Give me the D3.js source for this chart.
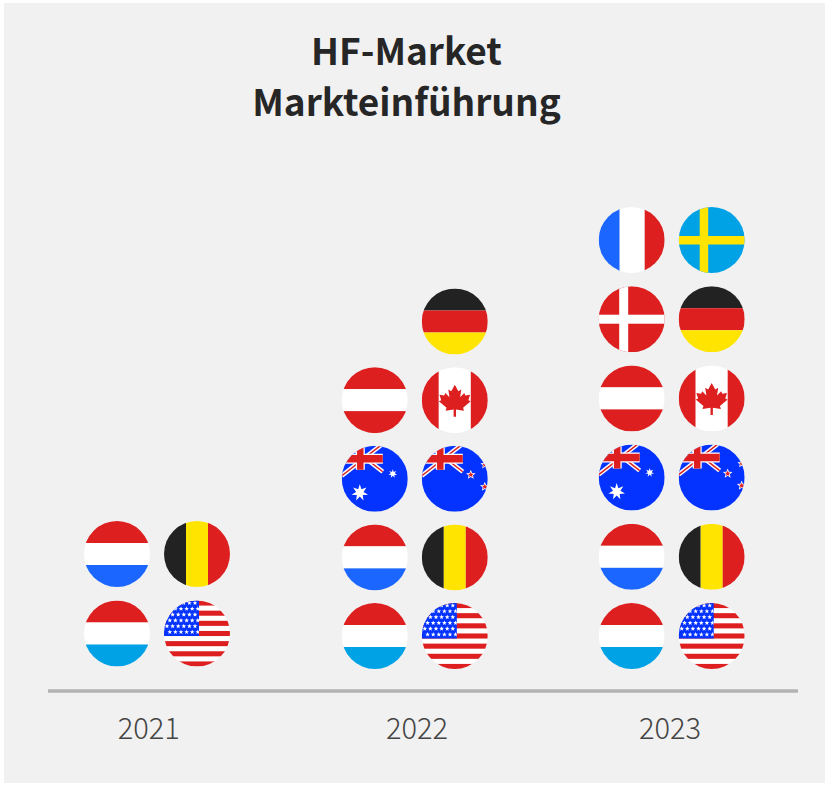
<!DOCTYPE html>
<html><head><meta charset="utf-8">
<script src="https://cdnjs.cloudflare.com/ajax/libs/d3/7.8.5/d3.min.js"></script>
<style>html,body{margin:0;padding:0;background:#fff}svg{display:block}</style>
</head><body><svg id="c" width="828" height="785"></svg>
<script>
const titleLines = ["HF-Market", "Markteinführung"];
const years = ["2021", "2022", "2023"];
// Countries per year, bottom row first, each row left then right (null = empty slot)
const countries2021 = [["LU","US"],["NL","BE"]];
const countries2022 = [["LU","US"],["NL","BE"],["AU","NZ"],["AT","CA"],[null,"DE"]];
const countries2023 = [["LU","US"],["NL","BE"],["AU","NZ"],["AT","CA"],["DK","DE"],["FR","SE"]];
const byYear = {"2021":countries2021,"2022":countries2022,"2023":countries2023};

const RED="#dd1f1f", BLUE="#1a66ff", SKY="#00a2e6", YEL="#ffe400", BLK="#222", WHT="#fff", NAVY="#0433ff";
const R=33;
const svg=d3.select("#c");
svg.append("rect").attr("x",4).attr("y",3).attr("width",821).attr("height",780).attr("fill","#f1f1f1");

const groupX=d3.scaleOrdinal(years,[157,414.8,671.7]);
const labelX=d3.scaleOrdinal(years,[148.7,417,670]);
const colX=d3.scalePoint().domain([0,1]).range([-40,40]);
const rowScales={
  "2021":d3.scaleLinear().domain([0,1]).range([633.5,554]),
  "2022":d3.scaleLinear().domain([0,4]).range([636,321.5]),
  "2023":d3.scaleLinear().domain([0,5]).range([636,240])
};

svg.append("g").selectAll("text").data(titleLines).join("text")
  .attr("x",406.5).attr("y",(d,i)=>65+i*51).attr("text-anchor","middle")
  .attr("font-family","'Noto Sans CJK SC','Noto Sans'").attr("font-weight",700)
  .attr("font-size",37).attr("fill","#262626").text(d=>d);

svg.append("line").attr("x1",48).attr("x2",798).attr("y1",691).attr("y2",691)
  .attr("stroke","#b3b3b3").attr("stroke-width",3.5);
svg.append("g").selectAll("text").data(years).join("text")
  .attr("x",d=>labelX(d)).attr("y",739).attr("text-anchor","middle")
  .attr("font-family","'Noto Sans CJK SC','Noto Sans'").attr("font-weight",300)
  .attr("font-size",29).attr("fill","#444").text(d=>d);

const defs=svg.append("defs");
defs.append("clipPath").attr("id","disc").append("circle").attr("r",R);
defs.append("clipPath").attr("id","canton").append("rect").attr("x",-R).attr("y",-R).attr("width",R+2).attr("height",R+2.5);

function rect(g,x0,y0,x1,y1,f){g.append("rect").attr("x",x0).attr("y",y0).attr("width",x1-x0).attr("height",y1-y0).attr("fill",f);}
function hbands(g,cols,cuts){cols.forEach((c,i)=>rect(g,-R,cuts[i],R,cuts[i+1],c));}
function vbands(g,cols,cuts){cols.forEach((c,i)=>rect(g,cuts[i],-R,cuts[i+1],R,c));}
const third=[-R,-11,11,R];
function star(n,ro,ri){
  const pts=d3.range(n*2).map(i=>{const a=Math.PI*i/n-Math.PI/2,r=i%2?ri:ro;return [r*Math.cos(a),r*Math.sin(a)];});
  return d3.line()(pts)+"Z";
}
function jack(g){
  const x0=-R,x1=8,y0=-R,y1=-9,cx=-14.5,cy=-20;
  const j=g.append("g");
  const line=(a,b,c,d,s,w)=>j.append("line").attr("x1",a).attr("y1",b).attr("x2",c).attr("y2",d).attr("stroke",s).attr("stroke-width",w);
  line(x0,y1+6,x1,y0-2,WHT,4.5); line(x0,y0-6,x1,y1+2,WHT,4.5);
  line(x0,y1+6,x1,y0-2,RED,1.5); line(x0,y0-6,x1,y1+2,RED,1.5);
  line(cx,y0,cx,y1,WHT,9); line(x0,cy,x1,cy,WHT,10);
  line(cx,y0,cx,y1,RED,6.5); line(x0,cy,x1,cy,RED,7.5);
}
const maple="M0,-13 L3,-7.5 L5.5,-9 L4.5,-2.5 L8,-6 L9,-4 L13,-4.5 L11.5,0 L13.5,1 L7,6.5 L7.8,9 L1,8 L1,14 L-1,14 L-1,8 L-7.8,9 L-7,6.5 L-13.5,1 L-11.5,0 L-13,-4.5 L-9,-4 L-8,-6 L-4.5,-2.5 L-5.5,-9 L-3,-7.5 Z";

const flags={
  LU:g=>hbands(g,[RED,WHT,SKY],third),
  NL:g=>hbands(g,[RED,WHT,BLUE],third),
  AT:g=>hbands(g,[RED,WHT,RED],third),
  DE:g=>hbands(g,[BLK,RED,YEL],third),
  BE:g=>vbands(g,[BLK,YEL,RED],third),
  FR:g=>vbands(g,[BLUE,WHT,RED],[-R,-12,13,R]),
  CA:g=>{vbands(g,[RED,WHT,RED],[-R,-16,16,R]);g.append("path").attr("transform","scale(1.18)").attr("d",maple).attr("fill",RED);},
  SE:g=>{rect(g,-R,-R,R,R,SKY);rect(g,-12,-R,-3.5,R,YEL);rect(g,-R,-4,R,4.5,YEL);},
  DK:g=>{rect(g,-R,-R,R,R,RED);rect(g,-12.5,-R,-3.5,R,WHT);rect(g,-R,-4.5,R,4.5,WHT);},
  AU:g=>{rect(g,-R,-R,R,R,NAVY);jack(g);
    g.append("path").attr("transform","translate(-15,14)").attr("d",star(7,8.5,3.8)).attr("fill",WHT);
    g.append("path").attr("transform","translate(18,-5)").attr("d",star(7,4.5,2)).attr("fill",WHT);},
  NZ:g=>{rect(g,-R,-R,R,R,NAVY);jack(g);
    [[16,-4,5],[30,-14,4.5],[30,8,5]].forEach(([x,y,s])=>{
      g.append("path").attr("transform",`translate(${x},${y})`).attr("d",star(5,s,s*.45)).attr("fill",WHT);
      g.append("path").attr("transform",`translate(${x},${y})`).attr("d",star(5,s*.6,s*.27)).attr("fill",RED);
    });},
  US:g=>{
    rect(g,-R,-R,R,R,WHT);
    const h=2*R/13;
    d3.range(0,13,2).forEach(i=>rect(g,-R,-R+i*h,R,-R+(i+1)*h,RED));
    rect(g,-R,-R,2,2.5,NAVY);
    const s=g.append("g").attr("clip-path","url(#canton)");
    d3.range(6).forEach(r=>d3.range(6).forEach(c=>{
      s.append("path").attr("transform",`translate(${-30+c*5.6+(r%2)*2.8},${-30.5+r*5.8})`)
       .attr("d",star(5,2.5,1.05)).attr("fill",WHT);
    }));
  }
};

years.forEach(y=>{
  const rowY=rowScales[y];
  const cells=byYear[y].flatMap((row,r)=>row.map((code,c)=>({code,r,c}))).filter(d=>d.code);
  svg.append("g").attr("class","year").selectAll("g").data(cells).join("g")
    .attr("transform",d=>`translate(${groupX(y)+colX(d.c)},${rowY(d.r)})`)
    .each(function(d){
      const g=d3.select(this).append("g").attr("clip-path","url(#disc)");
      flags[d.code](g);
    });
});
</script></body></html>
